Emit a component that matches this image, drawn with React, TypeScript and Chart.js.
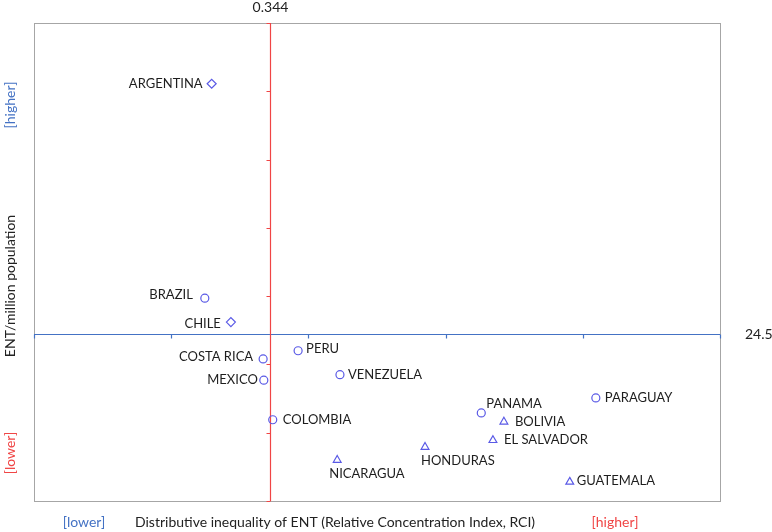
import React, { useEffect, useRef } from "react";
import { Chart, registerables } from "chart.js";

Chart.register(...registerables);

// ---- data ----
const countries = [
  "ARGENTINA", "BRAZIL", "CHILE", "COSTA RICA", "MEXICO", "COLOMBIA", "PERU", "VENEZUELA",
  "NICARAGUA", "HONDURAS", "PANAMA", "BOLIVIA", "EL SALVADOR", "PARAGUAY", "GUATEMALA",
];
const rciValues = [0.259, 0.249, 0.287, 0.334, 0.335, 0.348, 0.385, 0.446, 0.442, 0.57, 0.652, 0.685, 0.669, 0.819, 0.781];
const entValues = [61.1, 29.7, 26.2, 20.8, 17.7, 11.9, 22.0, 18.5, 6.0, 7.9, 12.9, 11.6, 8.9, 15.1, 2.8];
const markerShapes = [
  "rectRot", "circle", "rectRot", "circle", "circle", "circle", "circle", "circle",
  "triangle", "triangle", "circle", "triangle", "triangle", "circle", "triangle",
];
const xTicks = [0, 0.2, 0.4, 0.6, 0.8, 1.0];
const yTicks = [0, 10, 20, 30, 40, 50, 60, 70];
const rciCut = 0.344;
const entCut = 24.5;
const rciCutLabel = "0.344";
const entCutLabel = "24.5";
const xTitle = "Distributive inequality of ENT (Relative Concentration Index, RCI)";
const yTitle = "ENT/million population";

// ---- label placement (style) ----
type Place = { align: CanvasTextAlign; dx: number; dy: number };
const labelPlacement: Record<string, Place> = {
  ARGENTINA: { align: "right", dx: -9, dy: 0 },
  BRAZIL: { align: "right", dx: -12, dy: -3 },
  CHILE: { align: "right", dx: -10, dy: 2 },
  "COSTA RICA": { align: "right", dx: -10, dy: -2 },
  MEXICO: { align: "right", dx: -6, dy: 0 },
  COLOMBIA: { align: "left", dx: 10, dy: 0 },
  PERU: { align: "left", dx: 8, dy: -2 },
  VENEZUELA: { align: "left", dx: 8, dy: 0 },
  NICARAGUA: { align: "left", dx: -8, dy: 14 },
  HONDURAS: { align: "left", dx: -4, dy: 14 },
  PANAMA: { align: "left", dx: 5, dy: -9 },
  BOLIVIA: { align: "left", dx: 11, dy: 0 },
  "EL SALVADOR": { align: "left", dx: 11, dy: 0 },
  PARAGUAY: { align: "left", dx: 9, dy: 0 },
  GUATEMALA: { align: "left", dx: 7, dy: -1 },
};

const FONT = "Lato, 'Open Sans', sans-serif";
const MARKER = "#5a5ae6";
const BLUE = "#4472c4";
const RED = "#f04545";
const GRAY = "#a6a6a6";

const overlayPlugin = {
  id: "quadOverlay",
  beforeDatasetsDraw(chart: any) {
    const { ctx, chartArea, scales } = chart;
    const { left, right, top, bottom } = chartArea;
    const xs = scales.x;
    const ys = scales.y;
    ctx.save();
    // frame
    ctx.strokeStyle = GRAY;
    ctx.lineWidth = 1;
    ctx.strokeRect(Math.round(left) + 0.5, Math.round(top) + 0.5, Math.round(right - left), Math.round(bottom - top));

    // horizontal (blue) line at entCut
    const yc = Math.round(ys.getPixelForValue(entCut)) + 0.5;
    ctx.strokeStyle = BLUE;
    ctx.lineWidth = 1.2;
    ctx.beginPath();
    ctx.moveTo(left, yc);
    ctx.lineTo(right, yc);
    xTicks.forEach((t) => {
      const px = Math.round(xs.getPixelForValue(t)) + 0.5;
      ctx.moveTo(px, yc);
      ctx.lineTo(px, yc + 4);
    });
    ctx.stroke();

    // vertical (red) line at rciCut
    const xc = Math.round(xs.getPixelForValue(rciCut)) + 0.5;
    ctx.strokeStyle = RED;
    ctx.beginPath();
    ctx.moveTo(xc, top);
    ctx.lineTo(xc, bottom);
    yTicks.forEach((t) => {
      const py = Math.round(ys.getPixelForValue(t)) + 0.5;
      ctx.moveTo(xc, py);
      ctx.lineTo(xc - 4, py);
    });
    ctx.stroke();

    // cut labels
    ctx.fillStyle = "#222";
    ctx.font = `14px ${FONT}`;
    ctx.textBaseline = "middle";
    ctx.textAlign = "center";
    ctx.fillText(rciCutLabel, xc, top - 16);
    ctx.textAlign = "left";
    ctx.fillText(entCutLabel, right + 25, yc);

    // bottom axis texts
    const by = bottom + 21;
    ctx.fillStyle = BLUE;
    ctx.textAlign = "center";
    ctx.fillText("[lower]", 84, by);
    ctx.fillStyle = "#222";
    ctx.textAlign = "left";
    ctx.fillText(xTitle, 135, by);
    ctx.fillStyle = RED;
    ctx.textAlign = "center";
    ctx.fillText("[higher]", 615, by);

    // left axis texts (rotated)
    const drawV = (text: string, cx: number, cy: number, color: string) => {
      ctx.save();
      ctx.translate(cx, cy);
      ctx.rotate(-Math.PI / 2);
      ctx.fillStyle = color;
      ctx.textAlign = "center";
      ctx.textBaseline = "middle";
      ctx.fillText(text, 0, 0);
      ctx.restore();
    };
    drawV("[higher]", 10, 105, BLUE);
    drawV(yTitle, 10, 286, "#222");
    drawV("[lower]", 10, 453, RED);
    ctx.restore();
  },
  afterDatasetsDraw(chart: any) {
    const { ctx } = chart;
    const meta = chart.getDatasetMeta(0);
    ctx.save();
    ctx.font = `13px ${FONT}`;
    ctx.fillStyle = "#1e1e1e";
    ctx.textBaseline = "middle";
    meta.data.forEach((el: any, i: number) => {
      const name = countries[i];
      const p = labelPlacement[name] || { align: "left", dx: 8, dy: 0 };
      ctx.textAlign = p.align;
      ctx.fillText(name, el.x + p.dx, el.y + p.dy);
    });
    ctx.restore();
  },
};

export default function App() {
  const ref = useRef<HTMLCanvasElement | null>(null);
  useEffect(() => {
    if (!ref.current) return;
    const chart = new Chart(ref.current, {
      type: "scatter",
      data: {
        datasets: [
          {
            data: countries.map((_, i) => ({ x: rciValues[i], y: entValues[i] })),
            pointStyle: markerShapes as any,
            pointRadius: markerShapes.map((s) => (s === "circle" ? 4 : 4.5)),
            pointBorderColor: MARKER,
            pointBackgroundColor: "rgba(0,0,0,0)",
            pointBorderWidth: 1.2,
            clip: false as any,
          },
        ],
      },
      options: {
        responsive: false,
        animation: false,
        layout: { padding: { left: 34, top: 23, right: 52, bottom: 31 } },
        scales: {
          x: { type: "linear", min: 0, max: 1, display: false },
          y: { type: "linear", min: 0, max: 70, display: false },
        },
        plugins: { legend: { display: false }, tooltip: { enabled: false } },
      },
      plugins: [overlayPlugin],
    });
    return () => chart.destroy();
  }, []);
  return (
    <div style={{ position: "fixed", left: 0, top: 0, width: 772, height: 532, background: "#fff" }}>
      <canvas ref={ref} width={772} height={532} />
    </div>
  );
}
